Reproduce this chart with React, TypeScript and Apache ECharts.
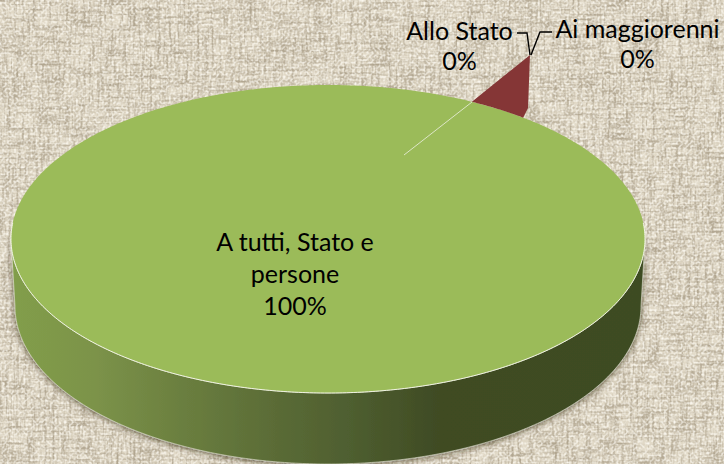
import React, { useEffect, useRef } from "react";
import * as echarts from "echarts";

const categories = ["A tutti, Stato e\npersone", "Allo Stato", "Ai maggiorenni"];
const percents = [100, 0, 0];
// drawn angular extent of each slice (degrees), as seen in the picture
const sweeps = [360, 11, 0];

const FONT = "Lato, 'Open Sans', sans-serif";
const CX = 328, CY = 239, RX = 317, RY = 154;
const WALL_RX = 313, WALL_CY = 306, WALL_RY = 158;
const START = 38; // clockwise from 12 o'clock, end of the small slice

const pt = (deg: number, rx = RX, cy = CY, ry = RY): number[] => {
  const r = (deg * Math.PI) / 180;
  return [CX + rx * Math.sin(r), cy - ry * Math.cos(r)];
};
const arc = (a: number, b: number, rx = RX, cy = CY, ry = RY): number[][] => {
  const n = Math.max(2, Math.ceil(Math.abs(b - a) * 1.5));
  const out: number[][] = [];
  for (let i = 0; i <= n; i++) out.push(pt(a + ((b - a) * i) / n, rx, cy, ry));
  return out;
};

const labelPos = [
  { x: 295, y: 272.5 },
  { x: 459.5, y: 44.5 },
  { x: 637.5, y: 42.5 },
];

function renderItem(_params: any, api: any) {
  const i = _params.dataIndex;
  const sweep = api.value(0);
  const pct = api.value(1);
  const children: any[] = [];
  if (i === 0) {
    children.push({
      type: "polygon",
      shape: { points: [...arc(90, 270), ...arc(270, 90, WALL_RX, WALL_CY, WALL_RY)] },
      style: {
        fill: new echarts.graphic.LinearGradient(0, 0, 1, 0, [
          { offset: 0, color: "#829E4B" },
          { offset: 0.13, color: "#7C9349" },
          { offset: 0.275, color: "#6A7E3F" },
          { offset: 0.42, color: "#5A6B36" },
          { offset: 0.53, color: "#4F5F30" },
          { offset: 0.675, color: "#3F4B24" },
          { offset: 1, color: "#3E4B23" },
        ]),
        stroke: "rgba(225,225,205,0.75)",
        lineWidth: 0.8,
        shadowBlur: 6,
        shadowColor: "rgba(40,35,25,0.7)",
        shadowOffsetY: 1,
      },
    });
    children.push({
      type: "polygon",
      shape: { points: arc(START, START + sweep) },
      style: { fill: "#9BBB59" },
    });
    children.push({
      type: "polyline",
      shape: { points: arc(84, 276) },
      style: { stroke: "#F0F3E2", lineWidth: 1, fill: "none" },
    });
    children.push({
      type: "line",
      shape: { x1: 404, y1: 155, x2: 472, y2: 102 },
      style: { stroke: "#DDE6C6", lineWidth: 1 },
    });
  } else if (sweep > 0) {
    const a = START - sweep;
    children.push({
      type: "polygon",
      shape: { points: [[530, 55], pt(a), ...arc(a, START), [528, 108]] },
      style: { fill: "#853636" },
    });
  }
  children.push({
    type: "text",
    x: labelPos[i].x,
    y: labelPos[i].y,
    style: {
      text: `${categories[i]}\n${pct}%`,
      fill: "#000",
      fontSize: 25,
      fontFamily: FONT,
      lineHeight: i === 0 ? 32 : 30,
      align: "center",
      verticalAlign: "middle",
    },
  });
  if (i === 1) {
    children.push({
      type: "polyline",
      shape: { points: [[517, 33], [527, 33], [530, 55]] },
      style: { stroke: "#000", lineWidth: 1.4, fill: "none" },
    });
  }
  if (i === 2) {
    children.push({
      type: "polyline",
      shape: { points: [[552, 32], [540, 32], [531, 55]] },
      style: { stroke: "#000", lineWidth: 1.4, fill: "none" },
    });
  }
  return { type: "group", children };
}

const darkTone = "0 0 0 0 0.44 0 0 0 0 0.38 0 0 0 0 0.28";
const linenSvg = `<svg xmlns='http://www.w3.org/2000/svg' width='724' height='464'>
<filter id='h' x='0' y='0' width='100%' height='100%'><feTurbulence type='fractalNoise' baseFrequency='0.03 0.36' numOctaves='2' seed='4'/><feColorMatrix values='${darkTone} 2.6 0 0 0 -1.12'/></filter>
<filter id='v' x='0' y='0' width='100%' height='100%'><feTurbulence type='fractalNoise' baseFrequency='0.36 0.03' numOctaves='2' seed='9'/><feColorMatrix values='${darkTone} 2.6 0 0 0 -1.12'/></filter>
<filter id='w' x='0' y='0' width='100%' height='100%'><feTurbulence type='fractalNoise' baseFrequency='0.42 0.42' numOctaves='1' seed='2'/><feColorMatrix values='0 0 0 0 1 0 0 0 0 0.98 0 0 0 0 0.92 2.2 0 0 0 -0.9'/></filter>
<rect width='724' height='464' fill='#E1D9C7'/>
<rect width='724' height='464' filter='url(#h)'/>
<rect width='724' height='464' filter='url(#v)'/>
<rect width='724' height='464' filter='url(#w)'/>
</svg>`;

export default function App() {
  const ref = useRef<HTMLDivElement>(null);
  useEffect(() => {
    const chart = echarts.init(ref.current!, null, { renderer: "svg" });
    chart.setOption({
      animation: false,
      series: [
        {
          type: "custom",
          coordinateSystem: "none",
          renderItem,
          silent: true,
          clip: false,
          data: categories.map((_, i) => [sweeps[i], percents[i]]),
        },
      ],
    });
    return () => chart.dispose();
  }, []);
  const pageStyle = `html,body{margin:0;padding:0;}`;
  return (
    <>
      <style>{pageStyle}</style>
      <div
        style={{
          width: 724,
          height: 464,
          backgroundColor: "#DFD7C3",
          backgroundImage: `url("data:image/svg+xml,${encodeURIComponent(linenSvg)}")`,
          overflow: "hidden",
        }}
      >
        <div ref={ref} style={{ width: 724, height: 464 }} />
      </div>
    </>
  );
}
